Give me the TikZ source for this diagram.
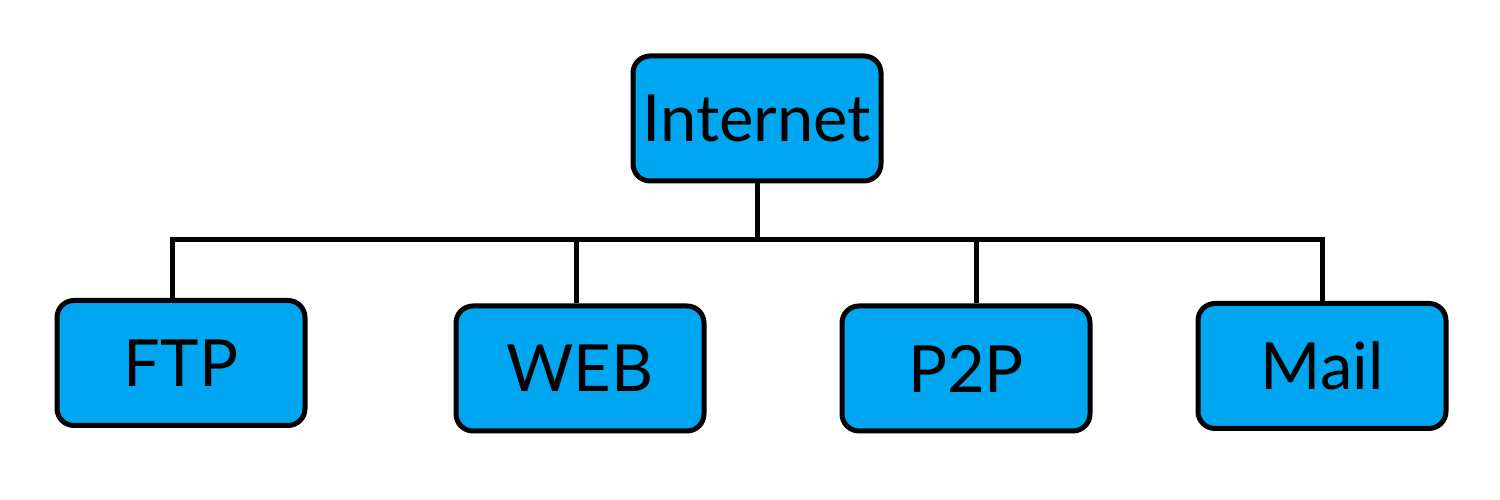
\documentclass[tikz,border=0pt]{standalone}
\usepackage{fontspec}
\setmainfont{Lato}
\usetikzlibrary{positioning,calc}
\definecolor{netblue}{RGB}{0,166,240}

\begin{document}
\begin{tikzpicture}[
    every node/.style={
        rectangle, draw=black, fill=netblue, line width=0.05cm,
        text centered, rounded corners=0.17cm, inner sep=0pt,
        font=\fontsize{18.5}{22}\selectfont,
        minimum width=2.48cm, minimum height=1.25cm
    },
    wire/.style={draw=black, line width=0.05cm}
]
\useasboundingbox (0,0) rectangle (15,5);

\node (internet) at (7.57,3.815) {Internet};
\node (ftp)  at (1.81,1.37)  {FTP};
\node (web)  at (5.80,1.315) {WEB};
\node (ptp)  at (9.66,1.315) {P2P};
\node (mail) at (13.22,1.34) {Mail};

% bus junctions
\coordinate (bftp)  at (1.72,2.60);
\coordinate (bweb)  at (5.76,2.60);
\coordinate (bptp)  at (9.76,2.60);
\coordinate (bmail) at (13.22,2.60);

\draw[wire] (internet.south) -- (internet.south |- bftp);
\draw[wire] (bftp |- ftp.north) -- (bftp) -- (bmail) -- (bmail |- mail.north);
\draw[wire] (bweb) -- (bweb |- web.north);
\draw[wire] (bptp) -- (bptp |- ptp.north);

\end{tikzpicture}
\end{document}
